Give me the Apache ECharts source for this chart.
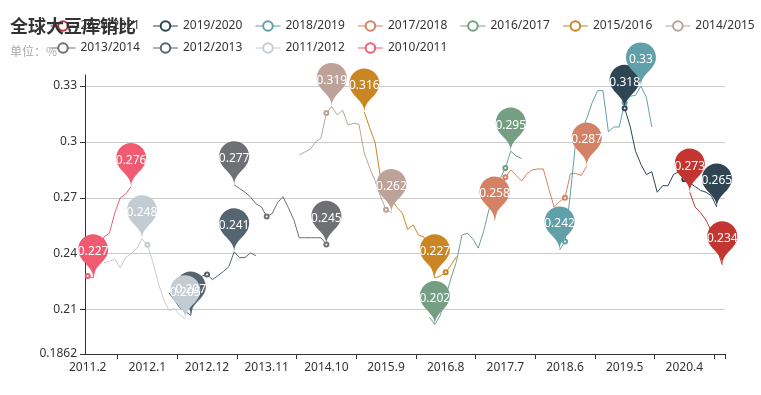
<!DOCTYPE html>
<html>
<head>
<meta charset="utf-8">
<script src="https://cdn.jsdelivr.net/npm/echarts@6/dist/echarts.min.js"></script>
<style>
html,body{margin:0;padding:0;background:#fff;}
#main{width:761px;height:395px;}
</style>
</head>
<body>
<div id="main"></div>
<script>
// x-axis categories: monthly, 2011.2 .. 2020.11
const firstMonth = [2011, 2];
const monthCount = 118;
const months = [];
for (let k = 0; k < monthCount; k++) {
  const t = firstMonth[0] * 12 + (firstMonth[1] - 1) + k;
  months.push(Math.floor(t / 12) + '.' + (t % 12 + 1));
}

const seriesNames = ['2020/2021','2019/2020','2018/2019','2017/2018','2016/2017','2015/2016','2014/2015','2013/2014','2012/2013','2011/2012','2010/2011'];
const seriesStarts = ['2020.5','2019.5','2018.5','2017.5','2016.5','2015.5','2014.5','2013.5','2012.5','2011.5','2011.2'];
const seriesColors = ['#c23531','#2f4554','#61a0a8','#d48265','#749f83','#ca8622','#bda29a','#6e7074','#546570','#c4ccd3','#f05b72'];

const v2020_2021 = [0.273,0.265,0.262,0.258,0.252,0.243,0.234];
const v2019_2020 = [0.318,0.3085,0.295,0.288,0.2825,0.284,0.273,0.2765,0.2765,0.2825,0.284,0.280,0.278,0.276,0.274,0.273,0.271,0.265];
const v2018_2019 = [0.242,0.2466,0.2725,0.301,0.3055,0.3125,0.321,0.3275,0.3275,0.3055,0.308,0.308,0.321,0.3245,0.325,0.33,0.324,0.308];
const v2017_2018 = [0.258,0.270,0.281,0.285,0.282,0.279,0.283,0.285,0.2855,0.2855,0.275,0.265,0.268,0.270,0.283,0.283,0.282,0.287];
const v2016_2017 = [0.206,0.202,0.207,0.217,0.227,0.236,0.250,0.251,0.248,0.243,0.252,0.264,0.2725,0.280,0.286,0.295,0.2925,0.291];
const v2015_2016 = [0.316,0.3075,0.2995,0.2805,0.2725,0.269,0.265,0.2618,0.253,0.2555,0.250,0.249,0.237,0.227,0.228,0.230,0.234,0.2385];
const v2014_2015 = [0.293,0.2945,0.296,0.300,0.302,0.3155,0.319,0.3145,0.317,0.309,0.310,0.3095,0.294,0.286,0.279,0.2707,0.2636,0.262];
const v2013_2014 = [0.277,0.275,0.273,0.2705,0.2668,0.2652,0.260,0.2615,0.2674,0.2706,0.2647,0.2582,0.2486,0.2486,0.2486,0.2486,0.2486,0.245];
const v2012_2013 = [0.219,0.215,0.211,0.209,0.207,0.225,0.228,0.2288,0.2261,0.2282,0.2304,0.233,0.241,0.2379,0.2379,0.2405,0.2389];
const v2011_2012 = [0.235,0.236,0.237,0.2325,0.238,0.240,0.2427,0.248,0.2448,0.2357,0.2245,0.2154,0.2095,0.2105,0.2073,0.205];
const v2010_2011 = [0.228,0.227,0.240,0.249,0.251,0.262,0.270,0.272,0.276];
const seriesValues = [v2020_2021,v2019_2020,v2018_2019,v2017_2018,v2016_2017,v2015_2016,v2014_2015,v2013_2014,v2012_2013,v2011_2012,v2010_2011];

const FONT = "'Noto Sans', 'Noto Sans CJK SC', sans-serif";

const series = seriesNames.map(function (name, s) {
  const start = months.indexOf(seriesStarts[s]);
  const vals = seriesValues[s];
  const data = months.map(function (m, i) {
    const k = i - start;
    return (k >= 0 && k < vals.length) ? vals[k] : null;
  });
  return {
    name: name,
    type: 'line',
    data: data,
    symbol: 'emptyCircle',
    symbolSize: 4,
    showAllSymbol: 'auto',
    lineStyle: { width: 1 },
    itemStyle: { color: seriesColors[s], borderWidth: 1 },
    markPoint: {
      symbol: 'pin',
      symbolSize: 50,
      label: { color: '#fff', fontSize: 12, fontFamily: FONT },
      data: [{ type: 'max', name: '最大值' }, { type: 'min', name: '最小值' }]
    }
  };
});

const chart = echarts.init(document.getElementById('main'));
chart.setOption({
  animation: false,
  color: seriesColors,
  title: {
    text: '全球大豆库销比',
    subtext: '单位：%',
    left: 5,
    top: 12,
    textStyle: { fontSize: 18, fontWeight: 'bold', color: '#333', fontFamily: "'Noto Sans CJK SC', sans-serif" },
    subtextStyle: { fontSize: 12, color: '#aaa', fontFamily: "'Noto Sans CJK SC', sans-serif" }
  },
  legend: {
    data: seriesNames,
    left: 45,
    width: 712,
    top: 15,
    itemWidth: 25,
    itemHeight: 12,
    itemGap: 10,
    itemStyle: { borderWidth: 1 },
    lineStyle: { width: 1 },
    textStyle: { fontSize: 12, lineHeight: 12, color: '#333', fontFamily: FONT, padding: [0, 2.6, 0, 0] }
  },
  grid: { left: 85, right: 36, top: 75, bottom: 41 },
  xAxis: {
    type: 'category',
    data: months,
    boundaryGap: true,
    axisLine: { lineStyle: { color: '#333' } },
    axisTick: { show: true, interval: function (i) { return i % 11 === 6; }, lineStyle: { color: '#333' } },
    axisLabel: { interval: 10, color: '#333', fontSize: 12, fontFamily: FONT }
  },
  yAxis: {
    type: 'value',
    min: 0.1862,
    max: 0.3359,
    axisLine: { show: true, lineStyle: { color: '#333' } },
    axisTick: { show: true, lineStyle: { color: '#333' } },
    axisLabel: { color: '#333', fontSize: 12, fontFamily: FONT, showMaxLabel: false },
    splitLine: { show: true, showMinLine: false, showMaxLine: false, lineStyle: { color: '#ccc' } }
  },
  series: series
});
</script>
</body>
</html>
